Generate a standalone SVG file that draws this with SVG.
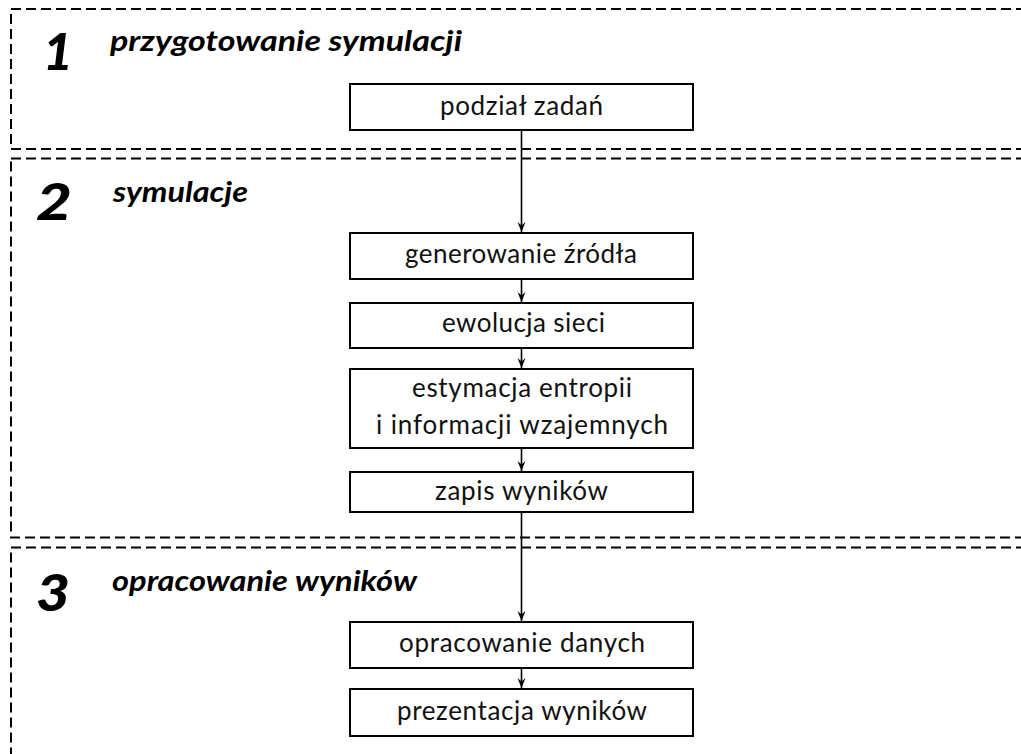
<svg xmlns="http://www.w3.org/2000/svg" width="1021" height="754" viewBox="0 0 1021 754">
<style>
.stage{fill:none;stroke:#000;stroke-width:2;stroke-dasharray:10,5}
.box{fill:#fff;stroke:#000;stroke-width:2}
.t{font-family:Lato,"Liberation Sans",sans-serif;font-size:26px;fill:#111}
.num{font-family:Lato,"Liberation Sans",sans-serif;font-size:52px;font-weight:900;font-style:italic;fill:#000}
.h{font-family:Lato,"Liberation Sans",sans-serif;font-size:28px;font-weight:bold;font-style:italic;fill:#000}
.c{stroke:#000;stroke-width:1.6;fill:none;marker-end:url(#ah)}
</style>
<defs>
<marker id="ah" viewBox="0 0 10 10" refX="10" refY="5" markerWidth="10" markerHeight="10" markerUnits="userSpaceOnUse" orient="auto">
<path d="M0,1 L10,5 L0,9 L3.5,5 Z" fill="#000"/>
</marker>
</defs>
<rect width="1021" height="754" fill="#fff"/>
<g id="stages">
<rect class="stage" x="11" y="9" width="1030" height="140"/>
<rect class="stage" x="11" y="158.5" width="1030" height="379"/>
<rect class="stage" x="11" y="547.5" width="1030" height="230"/>
</g>
<g id="stage1-label"><text class="num" x="43" y="70" textLength="30" lengthAdjust="spacingAndGlyphs">1</text><text class="h" x="110" y="51" textLength="352" lengthAdjust="spacingAndGlyphs">przygotowanie symulacji</text></g>
<g id="stage2-label"><text class="num" x="36" y="220" textLength="36" lengthAdjust="spacingAndGlyphs">2</text><text class="h" x="113" y="202" textLength="135" lengthAdjust="spacingAndGlyphs">symulacje</text></g>
<g id="stage3-label"><text class="num" x="36" y="611" textLength="34" lengthAdjust="spacingAndGlyphs">3</text><text class="h" x="112" y="591" textLength="305" lengthAdjust="spacingAndGlyphs">opracowanie wyników</text></g>
<g id="connectors">
<line class="c" x1="521.5" y1="130" x2="521.5" y2="232"/>
<line class="c" x1="521.5" y1="279" x2="521.5" y2="302"/>
<line class="c" x1="521.5" y1="348" x2="521.5" y2="368"/>
<line class="c" x1="521.5" y1="448" x2="521.5" y2="471"/>
<line class="c" x1="521.5" y1="512" x2="521.5" y2="621"/>
<line class="c" x1="521.5" y1="668" x2="521.5" y2="688"/>
</g>
<g id="n1"><rect class="box" x="350" y="84" width="343" height="46"/><text class="t" x="440" y="115" textLength="163">podział zadań</text></g>
<g id="n2"><rect class="box" x="350" y="233" width="343" height="46"/><text class="t" x="405" y="263" textLength="232">generowanie źródła</text></g>
<g id="n3"><rect class="box" x="350" y="303" width="343" height="45"/><text class="t" x="442" y="332" textLength="163">ewolucja sieci</text></g>
<g id="n4"><rect class="box" x="350" y="369" width="343" height="79"/><text class="t" x="412" y="397" textLength="220">estymacja entropii</text><text class="t" x="376" y="434" textLength="292">i informacji wzajemnych</text></g>
<g id="n5"><rect class="box" x="350" y="472" width="343" height="40"/><text class="t" x="435" y="500" textLength="173">zapis wyników</text></g>
<g id="n6"><rect class="box" x="350" y="622" width="343" height="46"/><text class="t" x="399" y="652" textLength="246">opracowanie danych</text></g>
<g id="n7"><rect class="box" x="350" y="689" width="343" height="47"/><text class="t" x="397" y="720" textLength="250">prezentacja wyników</text></g>
</svg>
